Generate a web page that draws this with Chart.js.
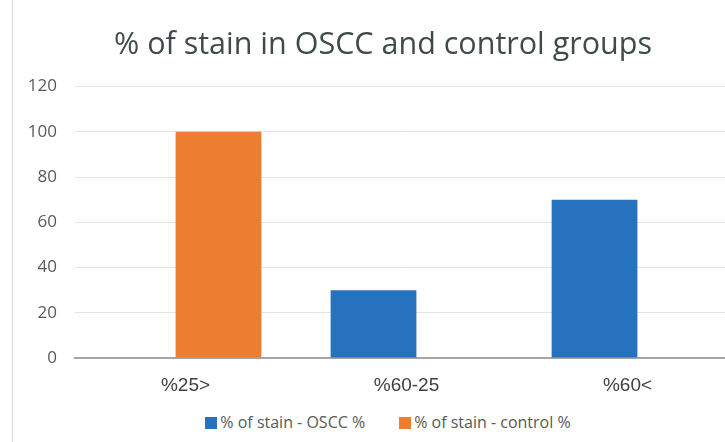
<!DOCTYPE html>
<html>
<head>
<meta charset="utf-8">
<script src="https://cdn.jsdelivr.net/npm/chart.js@4.4.0/dist/chart.umd.min.js"></script>
<style>
    html, body { margin: 0; padding: 0; background: #fff; }
    body { width: 725px; height: 442px; overflow: hidden; position: relative; }
    #frame { position: absolute; left: 12px; top: 0; width: 1px; height: 442px; background: #d9d9d9; }
    #wrap { position: absolute; left: 0; top: 0; width: 740px; height: 405px; }
    #legend { position: absolute; top: 411px; left: 0; width: 776px; text-align: center;
              font: 16px "Open Sans", sans-serif; color: #595959; white-space: nowrap; }
    #legend span.item { display: inline-block; margin: 0 17px; }
    #legend span.box { display: inline-block; width: 12px; height: 12px; margin-right: 3px; vertical-align: -1px; }
</style>
</head>
<body>
<div id="frame"></div>
<div id="wrap"><canvas id="chart"></canvas></div>
<div id="legend"></div>
<script>
// chart data
const categories = ["%25>", "%60-25", "%60<"];
const osccValues = [0, 30, 70];
const controlValues = [100, 0, 0];
const seriesNames = ["% of stain - OSCC %", "% of stain - control %"];
const seriesColors = ["#2672BE", "#ED7D31"];
const yTicks = [0, 20, 40, 60, 80, 100, 120];

const ctx = document.getElementById('chart').getContext('2d');
const myChart = new Chart(ctx, {
    type: 'bar',
    data: {
        labels: categories,
        datasets: [
            { label: seriesNames[0], data: osccValues, backgroundColor: seriesColors[0] },
            { label: seriesNames[1], data: controlValues, backgroundColor: seriesColors[1] }
        ]
    },
    options: {
        responsive: true,
        maintainAspectRatio: false,
        animation: false,
        categoryPercentage: 0.597,
        barPercentage: 1.30,
        // plot runs past the window's right edge like the original (cropped)
        layout: { padding: { left: 28, right: 2, top: 0, bottom: 0 } },
        plugins: {
            legend: { display: false },
            tooltip: { enabled: false },
            title: {
                display: true,
                text: "% of stain in OSCC and control groups",
                color: '#404a4a',
                font: { family: '"Open Sans", sans-serif', size: 30.5, weight: 'normal' },
                padding: { top: 27, bottom: 23 }
            }
        },
        scales: {
            x: {
                grid: { display: false },
                border: { display: true, color: '#a6a6a6', width: 2 },
                ticks: {
                    color: '#404040',
                    font: { family: '"Liberation Sans", Arial, sans-serif', size: 19 },
                    padding: 8
                },
                afterFit: (scale) => { scale.height = 405 - 358; }
            },
            y: {
                min: 0,
                max: 120,
                afterBuildTicks: (scale) => { scale.ticks = yTicks.map(v => ({ value: v })); },
                grid: { color: '#e4e4e4', lineWidth: 1, drawTicks: false },
                border: { display: false },
                ticks: {
                    color: '#595959',
                    font: { family: '"Open Sans", sans-serif', size: 17 },
                    padding: 18
                },
                afterFit: (scale) => { scale.width = 75 - 28; }
            }
        }
    }
});

// legend below the chart, built from the same series
const legend = document.getElementById('legend');
seriesNames.forEach((name, i) => {
    const item = document.createElement('span');
    item.className = 'item';
    const box = document.createElement('span');
    box.className = 'box';
    box.style.background = seriesColors[i];
    item.appendChild(box);
    item.appendChild(document.createTextNode(name));
    legend.appendChild(item);
});
</script>
</body>
</html>
